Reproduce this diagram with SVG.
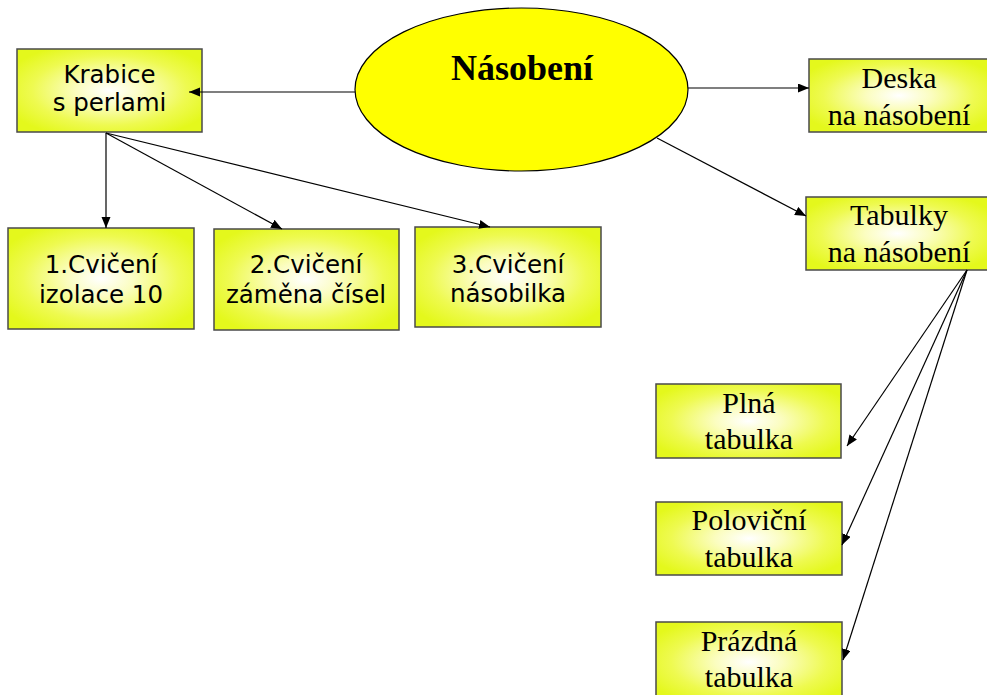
<svg xmlns="http://www.w3.org/2000/svg" width="987" height="695" viewBox="0 0 987 695">
<defs>
<radialGradient id="g" cx="0.5" cy="0.5" r="0.6">
<stop offset="0" stop-color="#ffffff"/>
<stop offset="0.3" stop-color="#fbfdc0"/>
<stop offset="0.7" stop-color="#eefa50"/>
<stop offset="1" stop-color="#e4f81c"/>
</radialGradient>
<marker id="ah" markerUnits="userSpaceOnUse" markerWidth="12" markerHeight="10" refX="11" refY="4.5" orient="auto">
<path d="M0,0 L11,4.5 L0,9 Z" fill="#000"/>
</marker>
<style>
.box{fill:url(#g);stroke:#4a4a4a;stroke-width:1.5}
.sans{font-family:"DejaVu Sans",Verdana,sans-serif;font-size:24.5px;fill:#000;text-anchor:middle}
.serif{font-family:"Liberation Serif","Times New Roman",serif;font-size:30px;fill:#000;text-anchor:middle}
.con{stroke:#000;stroke-width:1.2;fill:none;marker-end:url(#ah)}
</style>
</defs>
<rect width="987" height="695" fill="#fff"/>
<g id="nasobeni">
<ellipse cx="521.5" cy="89.5" rx="166.5" ry="81.5" fill="#ffff00" stroke="#000" stroke-width="1.2"/>
<text x="522" y="80" font-family="'Liberation Serif','Times New Roman',serif" font-size="36" font-weight="bold" text-anchor="middle">Násobení</text>
</g>
<g id="krabice">
<rect class="box" x="17" y="49" width="185" height="83"/>
<text class="sans" x="109.5" y="83">Krabice</text>
<text class="sans" x="109.5" y="111">s perlami</text>
</g>
<g id="cviceni1">
<rect class="box" x="8" y="228" width="186" height="101"/>
<text class="sans" x="101" y="273">1.Cvičení</text>
<text class="sans" x="101" y="303">izolace 10</text>
</g>
<g id="cviceni2">
<rect class="box" x="214" y="229" width="185" height="101"/>
<text class="sans" x="306" y="273">2.Cvičení</text>
<text class="sans" x="306" y="303">záměna čísel</text>
</g>
<g id="cviceni3">
<rect class="box" x="415" y="227" width="186" height="100"/>
<text class="sans" x="508" y="273">3.Cvičení</text>
<text class="sans" x="508" y="302">násobilka</text>
</g>
<g id="deska">
<rect class="box" x="809" y="59" width="180" height="73"/>
<text class="serif" x="899" y="88">Deska</text>
<text class="serif" x="899" y="125">na násobení</text>
</g>
<g id="tabulky">
<rect class="box" x="806" y="197" width="183" height="73"/>
<text class="serif" x="899" y="225">Tabulky</text>
<text class="serif" x="899" y="262">na násobení</text>
</g>
<g id="plna">
<rect class="box" x="656" y="384" width="185" height="74"/>
<text class="serif" x="749" y="413">Plná</text>
<text class="serif" x="749" y="449">tabulka</text>
</g>
<g id="polovicni">
<rect class="box" x="656" y="502" width="186" height="73"/>
<text class="serif" x="749" y="530">Poloviční</text>
<text class="serif" x="749" y="567">tabulka</text>
</g>
<g id="prazdna">
<rect class="box" x="656" y="622" width="186" height="80"/>
<text class="serif" x="749" y="651">Prázdná</text>
<text class="serif" x="749" y="687">tabulka</text>
</g>
<g id="connectors">
<line class="con" x1="355" y1="92" x2="189" y2="92"/>
<line class="con" x1="688" y1="88" x2="809" y2="88"/>
<line class="con" x1="657" y1="138" x2="806" y2="216"/>
<line class="con" x1="106" y1="133" x2="106" y2="228"/>
<line class="con" x1="106" y1="133" x2="282" y2="229"/>
<line class="con" x1="106" y1="133" x2="490" y2="227"/>
<line class="con" x1="967" y1="270" x2="847" y2="446"/>
<line class="con" x1="967" y1="270" x2="842" y2="545"/>
<line class="con" x1="967" y1="270" x2="843" y2="660"/>
</g>
</svg>
